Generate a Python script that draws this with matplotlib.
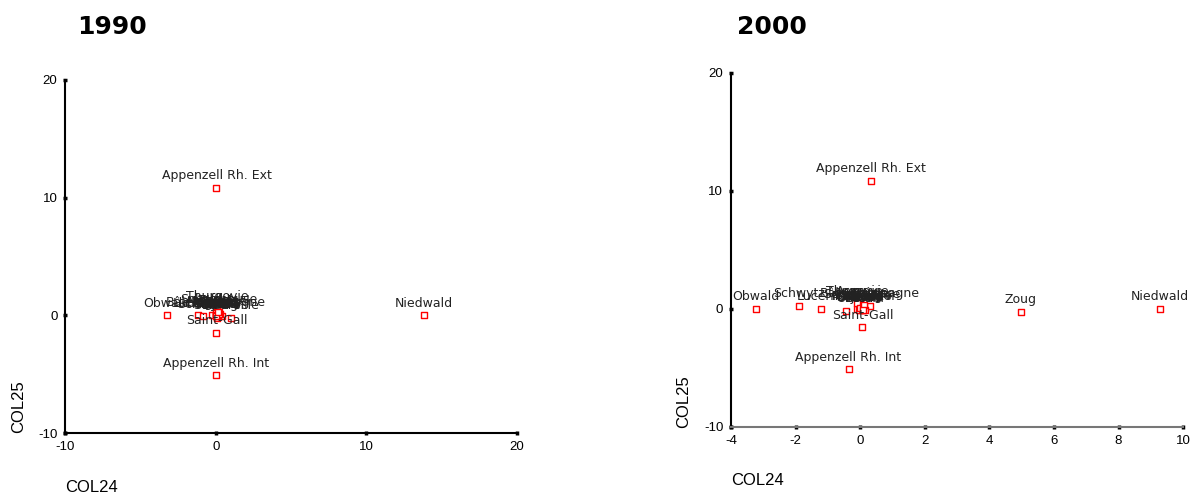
import matplotlib.pyplot as plt

plt.rcParams['axes.unicode_minus'] = False

cantons = ['Zurich', 'Berne', 'Lucerne', 'Uri', 'Schwytz', 'Obwald', 'Niedwald',
           'Glaris', 'Zoug', 'Fribourg', 'Soleure', 'Bâle-Ville', 'Bâle-Campagne',
           'Schaffhouse', 'Appenzell Rh. Ext', 'Appenzell Rh. Int', 'Saint-Gall',
           'Grisons', 'Argovie', 'Thurgovie', 'Tessin', 'Vaud', 'Valais',
           'Neuchâtel', 'Genève', 'Jura']

# 1990
x1990 = [0.1, -0.28, -1.2, 0.15, -0.87, -3.25, 13.8,
         0.2, 0.44, 0.05, 0.1, 0.98, 0.0,
         0.2, 0.05, 0.05, 0.05,
         0.15, 0.0, 0.1, 0.25, 0.0, 0.1,
         0.2, 0.05, 0.15]
y1990 = [0.2, 0.0, 0.0, 0.1, -0.1, 0.0, 0.0,
         -0.1, -0.1, 0.1, -0.2, -0.2, 0.05,
         0.3, 10.85, -5.1, -1.5,
         0.0, -0.05, 0.6, 0.1, 0.2, 0.0,
         0.15, -0.1, 0.25]

# 2000
x2000 = [0.05, 0.1, -1.2, -0.45, -1.9, -3.22, 9.27,
         0.15, 4.97, -0.1, 0.0, 0.1, 0.3,
         0.05, 0.33, -0.36, 0.07,
         -0.05, 0.0, -0.1, 0.15, 0.05, 0.0,
         0.1, 0.12, 0.08]
y2000 = [0.0, -0.1, 0.0, -0.15, 0.25, 0.0, 0.0,
         0.05, -0.25, 0.0, -0.05, 0.1, 0.25,
         0.2, 10.85, -5.1, -1.55,
         -0.05, 0.45, 0.5, -0.1, 0.05, 0.1,
         0.0, 0.3, -0.05]

W, H = 1193, 493
fig = plt.figure(figsize=(W / 100, H / 100), dpi=100)

# title, x, y, axes rect, xlim, xticks, bottom spine colour, title x, xlabel pos, ylabel pos (pixels)
panels = [
    ('1990', x1990, y1990, [0.0545, 0.1217, 0.3790, 0.7161], (-10, 20), [-10, 0, 10, 20],
     'black', 77, (65, 492), (18.5, 407)),
    ('2000', x2000, y2000, [0.6127, 0.1339, 0.3790, 0.7181], (-4, 10), list(range(-4, 11, 2)),
     '#777777', 737, (731, 485), (684, 402)),
]

for title, xs, ys, rect, xlim, xticks, bcol, tx, xl, yl in panels:
    ax = fig.add_axes(rect)
    ax.scatter(xs, ys, s=20, marker='s', facecolors='white', edgecolors='red',
               linewidths=1, zorder=3)
    for name, x, y in zip(cantons, xs, ys):
        ax.annotate(name, (x, y), xytext=(0, 4), textcoords='offset points',
                    ha='center', va='bottom', fontsize=9, color='#222222',
                    family='DejaVu Sans', zorder=4)
    ax.set_xlim(xlim)
    ax.set_ylim(-10, 20)
    ax.set_xticks(xticks)
    ax.set_yticks([-10, 0, 10, 20])
    for s in ['top', 'right']:
        ax.spines[s].set_visible(False)
    ax.spines['left'].set_linewidth(1.5)
    ax.spines['bottom'].set_linewidth(1.5)
    ax.spines['bottom'].set_color(bcol)
    ax.tick_params(direction='inout', length=3, width=2.5, color='black',
                   labelsize=9.5, pad=4)
    for lab in ax.get_xticklabels() + ax.get_yticklabels():
        lab.set_family('Liberation Sans')
    fig.text(xl[0] / W, 1 - xl[1] / H, 'COL24', family='Liberation Sans', fontsize=12,
             ha='left', va='baseline')
    fig.text(yl[0] / W, 1 - yl[1] / H, 'COL25', family='Liberation Sans', fontsize=12,
             ha='center', va='center', rotation=90)
    fig.text(tx / W, 1 - 27.5 / H, title, fontsize=18, fontweight='bold',
             family='DejaVu Sans', va='center', ha='left')

fig.savefig('out.png', dpi=100)
